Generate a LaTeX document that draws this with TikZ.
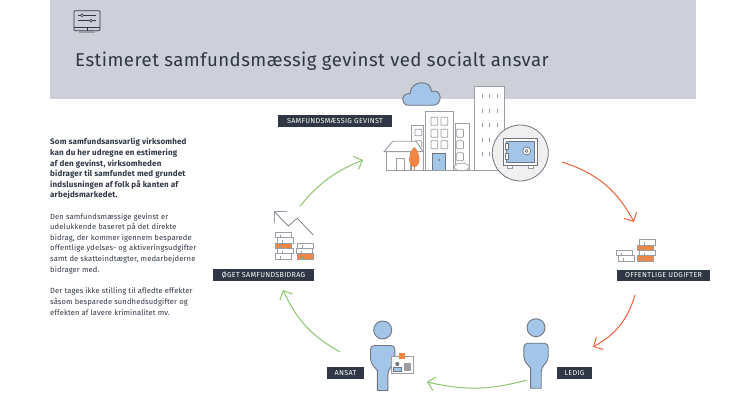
\documentclass[tikz,border=0pt]{standalone}
\usepackage{fontspec}
\setmainfont[LetterSpace=2]{Fira Sans}
\newfontfamily\titlefont[LetterSpace=2.5]{Fira Sans}
\newfontfamily\tagfont[LetterSpace=4]{Fira Sans}
\usetikzlibrary{positioning,arrows.meta}
\definecolor{band}{HTML}{CDD0D8}
\definecolor{ink}{HTML}{2F3644}
\definecolor{skyblue}{HTML}{A3C6E8}
\definecolor{steel}{HTML}{6F7580}
\definecolor{wall}{HTML}{9A9DA3}
\definecolor{carrot}{HTML}{F08643}
\definecolor{redline}{HTML}{E8623A}
\definecolor{greenline}{HTML}{8CC56F}
\tikzset{
  tag/.style={fill=ink,text=white,font=\tagfont\fontsize{7.2}{8}\selectfont,inner sep=0pt,minimum height=11.5pt},
  body/.style={align=left,anchor=north west,inner sep=0pt,text=ink,font=\fontsize{7.55}{10.6}\selectfont},
  gainarrow/.style={-{Straight Barb[length=7pt,width=14pt]},draw=greenline,line width=1pt},
  costarrow/.style={-{Straight Barb[length=7pt,width=14pt]},draw=redline,line width=1pt},
  outline/.style={draw=wall,line width=.9pt,fill=white},
  windowbox/.style={draw=wall,line width=.8pt,rounded corners=.8pt,fill=white},
  figure/.style={draw=steel,fill=skyblue,line width=.9pt}
}
% x y fill
\newcommand{\bookbar}[3]{
  \draw[draw=wall,line width=1pt,fill=#3] (#1,#2) rectangle ++(16,5.3);
  \draw[draw=wall,line width=.7pt] (#1+5,#2+2) -- ++(0,3.3);
}
\newcommand{\jobperson}[2]{
  \draw[figure] (#1,#2) circle (9);
  \draw[figure,rounded corners=4pt] (#1-12.2,#2+15.5) -- ++(24.4,0) -- ++(0,17) -- ++(-7,8) [sharp corners] -- ++(0,20) -- ++(-10.6,0) -- ++(0,-20) [rounded corners=4pt] -- ++(-6.8,-8) -- cycle;
}
\begin{document}
\begin{tikzpicture}[x=1pt,y=-1pt]
\useasboundingbox (0,0) rectangle (746,419);
\fill[band] (50,0) rectangle (696,99);
% Header icon
\draw[ink,line width=.7pt,rounded corners=1pt] (74,10.7) rectangle (100,30.7);
\draw[ink,line width=.6pt] (74,27.5) -- (100,27.5) (87,27.5) -- (87,30.7) (78,15.3) -- (96,15.3) (78,20.7) -- (96,20.7);
\draw[ink,line width=.6pt,fill=band] (82,15.3) circle (1.5) (91,20.7) circle (1.5);
\fill[wall] (79,31.5) rectangle (95,33);
\draw (75,61) node[anchor=west,inner sep=0pt,text=ink,font=\titlefont\fontsize{18.6}{20}\selectfont](TITLE){Estimeret samfundsmæssig gevinst ved socialt ansvar};
% Text
\draw (50,138.3) node[body,font=\bfseries\fontsize{8}{10.6}\selectfont](INTRO){Som samfundsansvarlig virksomhed\\kan du her udregne en estimering\\af den gevinst, virksomheden\\bidrager til samfundet med grundet\\indslusningen af folk på kanten af\\arbejdsmarkedet.};
\node[body,below=13pt of INTRO.south west,anchor=north west](BASIS){Den samfundsmæssige gevinst er\\udelukkende baseret på det direkte\\bidrag, der kommer igennem besparede\\offentlige ydelses- og aktiveringsudgifter\\samt de skatteindtægter, medarbejderne\\bidrager med.};
\node[body,below=14pt of BASIS.south west,anchor=north west](LIMIT){Der tages ikke stilling til afledte effekter\\såsom besparede sundhedsudgifter og\\effekten af lavere kriminalitet mv.};
% Cloud
\draw[figure] (408.5,105.3) .. controls (400.5,105) and (400.5,93) .. (410,93.5) .. controls (411,80) and (431,79) .. (431.5,91.5) .. controls (442.5,88) and (443,105.3) .. (433,105.3) -- cycle;
% City
\draw[outline] (411,125) rectangle (423.5,170.7);
\draw[outline] (455.3,123) rectangle (469.3,170.7);
\draw[outline] (425,111.7) rectangle (453.3,170.7);
\draw[outline] (474.7,86.7) rectangle (504,170.7);
\foreach \wy in {96,110.7,125,140,154}
  \foreach \wx in {482,489,497}
    \draw[wall,line width=.8pt] (\wx,\wy-2) -- (\wx,\wy+2);
\foreach \wy in {117.3,129.3,140.7}
  \foreach \wx in {431,441}
    \draw[windowbox] (\wx,\wy) rectangle ++(6.7,8);
\foreach \wy in {129.3,140.7,152.7}
  \draw[windowbox] (456.7,\wy) rectangle ++(6.7,8);
\foreach \wy in {129.3,140.7}
  \draw[windowbox] (415,\wy) rectangle ++(6.7,6.5);
\draw[figure,fill=skyblue] (432.3,153.3) rectangle (445.7,170.7);
\fill[steel] (439,160) circle (1);
\draw[outline] (386.7,151.7) rectangle (410,170.7);
\draw[outline] (384,151.7) -- (392.7,141.3) -- (416,141.3) -- (423,151.7) -- cycle;
\draw[outline] (396.7,158.7) rectangle (404.3,170.7);
\draw[carrot,line width=1.3pt] (414.3,160) -- (414.3,170.7);
\fill[carrot] (414.3,147) .. controls (418,150) and (419.5,156) .. (419.5,160) .. controls (419.5,164) and (417,167) .. (414.3,167) .. controls (411.6,167) and (409.1,164) .. (409.1,160) .. controls (409.1,156) and (410.6,150) .. cycle;
\draw[outline,line width=.7pt] (461.7,167) ellipse (7.5 and 3.8);
\draw[wall,line width=1.1pt] (386.7,170.7) -- (493,170.7);
% Safe
\draw[draw=steel,line width=.8pt,fill=black!6] (520.3,153) circle (28);
\draw[outline] (507,165) rectangle ++(5,3) (528,165) rectangle ++(5,3);
\draw[draw=steel,line width=.9pt,fill=white] (503.3,138.3) rectangle (537.3,165);
\draw[draw=steel,line width=.7pt,fill=skyblue] (506,141) rectangle (534.5,162);
\draw[draw=steel,line width=.7pt,fill=white] (505,143) rectangle ++(3,6) (505,153) rectangle ++(3,6);
\draw[draw=steel,line width=.7pt,fill=white] (526.7,151) circle (4);
\draw[draw=steel,line width=.7pt] (526.7,151) circle (1.5);
% Rising chart and books
\draw[wall,line width=.8pt] (287,211.7) -- (274.3,211.7) -- (274.3,223);
\draw[steel,line width=.7pt] (274.3,211.7) -- (288.3,226) -- (297.3,218.3) -- (313.3,235);
\bookbar{275}{232.7}{white}
\bookbar{277}{238}{white}
\bookbar{275}{243.3}{carrot}
\bookbar{277}{248.6}{white}
\bookbar{275}{254}{white}
\bookbar{297}{243.3}{white}
\bookbar{296}{248.6}{white}
\bookbar{297}{254}{carrot}
% Falling cost books
\bookbar{616.7}{250.7}{white}
\bookbar{618}{256}{white}
\bookbar{639}{240}{white}
\bookbar{637.5}{245.3}{carrot}
\bookbar{639}{250.7}{white}
\bookbar{637.5}{256}{carrot}
% Persons
\jobperson{382.7}{330}
\jobperson{536}{327.7}
\draw[draw=wall,line width=.8pt,fill=white] (391.7,356.7) rectangle (413.3,373.3);
\fill[carrot] (398.7,352.5) rectangle (404.7,358.5);
\fill[steel] (397.3,364) circle (2);
\draw[fill=skyblue,draw=steel] (393.5,371) rectangle (401,367);
\fill[wall] (403.5,362.5) rectangle (411,371);
% Labels
\draw (335,121) node[tag,minimum width=114pt](GAIN){SAMFUNDSMÆSSIG GEVINST};
\draw (663.5,275.5) node[tag,minimum width=93pt](COST){OFFENTLIGE UDGIFTER};
\draw (574.5,373) node[tag,minimum width=35pt](IDLE){LEDIG};
\draw (345.5,373) node[tag,minimum width=37pt](HIRED){ANSAT};
\draw (263.5,275) node[tag,minimum width=101pt](RAISED){ØGET SAMFUNDSBIDRAG};
% Cycle ends
\coordinate (C1a) at (562,162);
\coordinate (C1b) at (634,222);
\coordinate (C2a) at (635,295);
\coordinate (C2b) at (593,347);
\coordinate (G1a) at (527,380);
\coordinate (G1b) at (427,382);
\coordinate (G2a) at (340,352);
\coordinate (G2b) at (283,290);
\coordinate (G3a) at (300,206);
\coordinate (G3b) at (363,160);
% Arrows
\draw[costarrow] (C1a) to[bend left=22] (C1b);
\draw[costarrow] (C2a) to[bend left=22] (C2b);
\draw[gainarrow] (G1a) to[bend left=14] (G1b);
\draw[gainarrow] (G2a) to[bend left=18] (G2b);
\draw[gainarrow] (G3a) to[bend left=14] (G3b);
\end{tikzpicture}
\end{document}
